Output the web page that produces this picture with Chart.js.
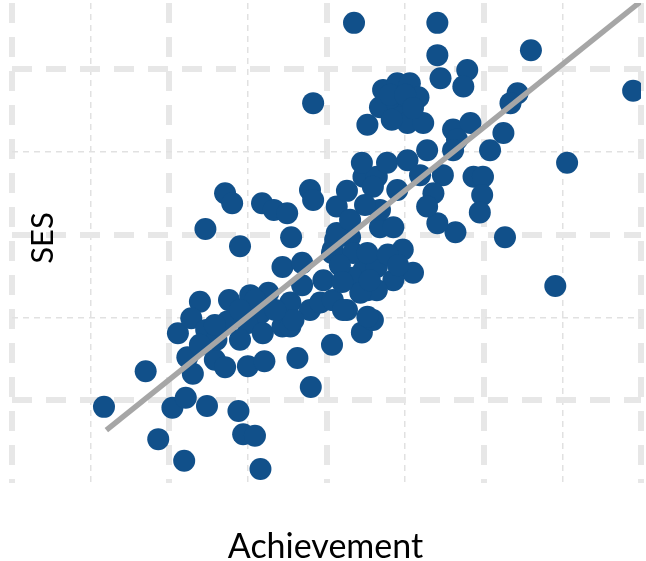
<!DOCTYPE html>
<html>
<head>
<meta charset="utf-8">
<script src="https://cdn.jsdelivr.net/npm/chart.js@4/dist/chart.umd.min.js"></script>
<style>
  html, body { margin: 0; padding: 0; background: #ffffff; }
  #wrap { width: 646px; height: 561px; position: relative; }
</style>
</head>
<body>
<div id="wrap"><canvas id="c"></canvas></div>
<script>
// Student achievement vs. socio-economic status (SES)
const achievement = [
  11.7,17.0,18.6,21.9,20.4,22.1,24.8,28.8,29.4,30.9,
  31.6,38.0,36.3,24.6,29.0,27.1,28.0,31.8,33.3,35.0,
  35.5,38.3,43.5,54.1,54.1,66.0,79.0,70.6,69.1,62.7,
  40.7,44.5,45.9,21.1,22.3,23.0,23.9,22.8,24.7,27.6,
  27.4,25.8,27.1,30.0,32.1,32.6,30.3,31.6,29.9,31.9,
  29.0,34.4,35.4,35.4,26.0,23.9,37.9,38.3,41.3,42.6,
  34.4,36.9,40.8,39.6,43.0,44.7,46.4,45.2,37.9,39.2,
  42.6,45.2,44.7,46.4,41.1,40.7,43.4,46.8,48.5,49.7,
  51.0,56.4,54.1,43.3,48.5,46.4,44.3,40.8,42.1,30.9,
  35.8,45.9,49.0,46.8,41.3,44.5,47.7,50.3,52.8,45.2,
  47.2,49.0,50.6,51.7,46.8,49.0,50.4,49.4,50.3,52.3,
  54.5,57.9,57.4,56.1,58.3,56.6,56.1,64.3,63.4,62.5,
  60.8,54.8,58.7,59.9,59.8,59.5,53.6,52.8,51.9,36.9,
  41.7,48.1,50.0,51.0,48.3,45.2,47.8,45.5,42.0,49.1,
  29.0,33.5,25.8,43.0,44.9
];
const ses = [
  9.2,13.5,5.3,2.7,9.1,10.3,9.3,8.7,5.9,5.7,
  1.7,11.6,15.1,30.7,28.6,35.0,33.8,33.8,33.0,32.6,
  29.7,45.9,55.6,55.6,51.7,52.3,47.4,38.7,23.8,29.7,
  16.7,18.2,19.7,18.1,15.2,13.2,21.9,19.9,18.5,22.1,
  19.5,14.9,14.0,14.1,14.7,23.0,22.7,20.5,19.3,18.1,
  17.3,18.9,21.8,18.9,17.3,16.7,35.4,34.2,33.4,35.3,
  26.1,26.6,28.2,24.5,29.7,25.7,26.1,23.3,20.9,21.8,
  20.9,20.1,37.0,37.0,29.4,27.8,27.8,30.9,30.9,28.2,
  25.4,30.3,31.4,24.8,24.5,23.3,23.0,22.1,20.9,22.1,
  19.7,35.8,35.4,33.0,30.2,38.7,38.7,39.0,40.2,43.3,
  47.5,48.3,48.3,46.6,45.4,45.9,45.1,44.2,43.5,43.5,
  48.9,49.9,47.9,42.7,43.5,41.5,40.2,47.1,45.9,42.3,
  40.2,37.2,37.0,37.0,34.8,32.7,35.0,33.4,37.2,23.9,
  26.3,46.9,46.9,45.3,43.9,27.8,27.6,24.5,24.3,26.3,
  20.9,20.9,19.1,31.8,33.6
];
// End points of the trend line
const trendAchievement = [12, 80];
const trendSes = [6.4, 58.2];

const xLabel = 'Achievement';
const yLabel = 'SES';

const points = achievement.map((v, i) => ({ x: v, y: ses[i] }));
const trend = trendAchievement.map((v, i) => ({ x: v, y: trendSes[i] }));

const MAJOR = '#e7e7e7';
const MINOR = '#e1e1e1';
const NONE = 'rgba(0,0,0,0)';

// Each axis gets two overlaid linear scales: one for the wide major grid
// lines and one for the fine minor grid lines in between.
function gridScale(axis, position, min, max, isMajor, majorTest) {
  return {
    type: 'linear',
    axis: axis,
    position: position,
    min: min,
    max: max,
    ticks: { display: false, stepSize: 10, includeBounds: false },
    border: { display: false, dash: isMajor ? [20, 14] : [6, 5] },
    grid: {
      drawTicks: false,
      lineWidth: isMajor ? 6 : 1.5,
      color: (ctx) => {
        if (!ctx.tick) return NONE;
        const v = Math.round(ctx.tick.value);
        if (isMajor) return majorTest(v) ? MAJOR : NONE;
        return !majorTest(v) && v > 0 ? MINOR : NONE;
      }
    }
  };
}

const axisTitles = {
  id: 'axisTitles',
  afterDraw(chart) {
    const { ctx, chartArea } = chart;
    ctx.save();
    ctx.fillStyle = '#000000';
    ctx.textAlign = 'center';
    ctx.textBaseline = 'alphabetic';
    ctx.font = '34px Lato';
    ctx.fillText(xLabel, (chartArea.left + chartArea.right) / 2 - 1, chartArea.bottom + 75);
    ctx.translate(chartArea.left + 41, 238);
    ctx.rotate(-Math.PI / 2);
    ctx.font = '31px Lato';
    ctx.fillText(yLabel, 0, 0);
    ctx.restore();
  }
};

new Chart(document.getElementById('c'), {
  type: 'scatter',
  data: {
    datasets: [
      {
        type: 'line',
        data: trend,
        borderColor: '#a6a6a6',
        borderWidth: 5.5,
        borderCapStyle: 'butt',
        pointRadius: 0,
        fill: false,
        order: 0
      },
      {
        data: points,
        backgroundColor: '#11508a',
        borderWidth: 0,
        pointRadius: 11,
        pointHoverRadius: 11,
        order: 1
      }
    ]
  },
  options: {
    responsive: true,
    maintainAspectRatio: false,
    animation: false,
    events: [],
    layout: { autoPadding: false, padding: { left: 12, right: 5, top: 3, bottom: 78 } },
    plugins: { legend: { display: false }, tooltip: { enabled: false } },
    scales: {
      x: gridScale('x', 'bottom', 0, 80, true, v => v % 20 === 0),
      xm: gridScale('x', 'bottom', 0, 80, false, v => v % 20 === 0),
      y: gridScale('y', 'left', 0, 58, true, v => v % 20 === 10),
      ym: gridScale('y', 'left', 0, 58, false, v => v % 20 === 10)
    }
  },
  plugins: [axisTitles]
});
</script>
</body>
</html>
